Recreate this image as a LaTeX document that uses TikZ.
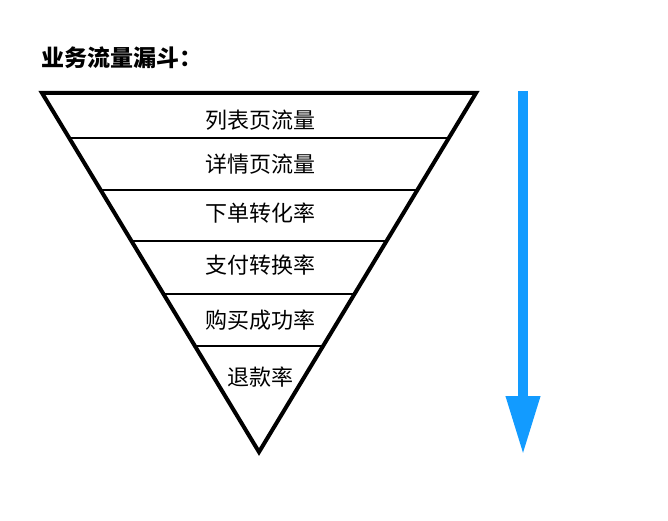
\documentclass[tikz,border=0pt]{standalone}
\usepackage{fontspec}
\newfontfamily\cjk{Noto Sans CJK SC}
\usetikzlibrary{calc,arrows.meta}
\definecolor{arrowblue}{RGB}{18,155,255}
\begin{document}
\begin{tikzpicture}[x=1pt,y=-1pt,
  lbl/.style={font=\cjk\fontsize{22}{22}\selectfont, inner sep=0pt},
  sep/.style={line width=1.1pt, black},
  funnel/.style={line width=4pt, line join=miter, black}]
\useasboundingbox (0,0) rectangle (668,521);
\node[font=\cjk\bfseries\fontsize{23}{23}\selectfont, anchor=west, inner sep=0pt] (title) at (41,58) {业务流量漏斗：};
\coordinate (tl) at (42,93);
\coordinate (tr) at (476,93);
\coordinate (ap) at (259,452);
\foreach \t in {0.1253,0.2702,0.4123,0.5599,0.7047}{
  \draw[sep] ($(tl)!\t!(ap)$) -- ($(tr)!\t!(ap)$);
}
\draw[funnel] (tl) -- (tr) -- (ap) -- cycle;
\node[lbl] (l1) at (260,120) {列表页流量};
\node[lbl] (l2) at (260,164) {详情页流量};
\node[lbl] (l3) at (260,213) {下单转化率};
\node[lbl] (l4) at (260,265) {支付转换率};
\node[lbl] (l5) at (260,320) {购买成功率};
\node[lbl] (l6) at (260,377) {退款率};
\coordinate (as) at (523,91);
\coordinate (ae) at (523,455);
\draw[arrowblue, line width=10pt, -{Triangle[length=59pt,width=32pt]}] (as) -- (ae);
\end{tikzpicture}
\end{document}
